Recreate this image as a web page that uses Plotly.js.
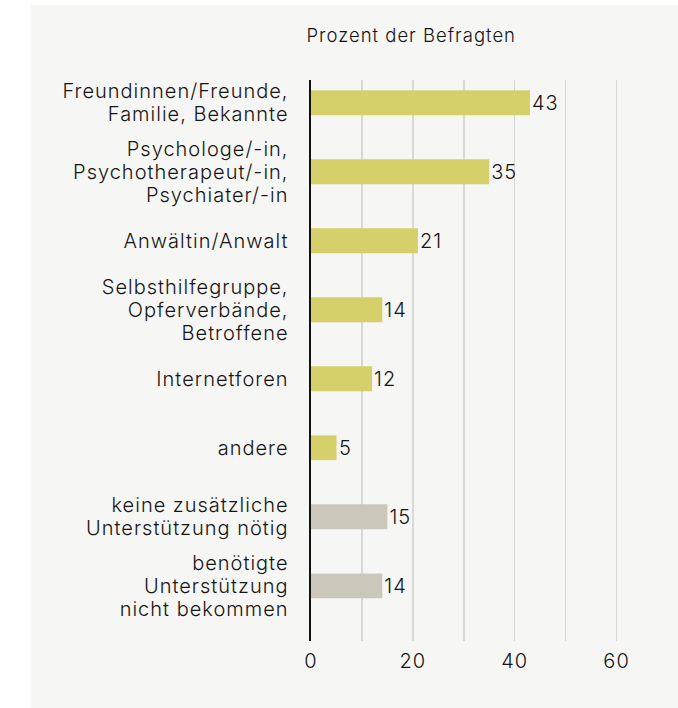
<!DOCTYPE html>
<html>
<head>
<meta charset="utf-8">
<script src="https://cdn.plot.ly/plotly-3.0.1.min.js"></script>
<style>
html,body{margin:0;padding:0;background:#ffffff;}
#wrap{position:relative;width:678px;height:708px;overflow:hidden;}
#bg{position:absolute;left:31px;top:5px;width:647px;height:703px;background:#f6f6f4;}
#chart{position:absolute;left:0;top:0;width:678px;height:708px;}
#chart svg text{letter-spacing:1px;}
</style>
</head>
<body>
<div id="wrap"><div id="bg"></div><div id="chart"></div></div>
<script>
const categories = [
  "Freundinnen/Freunde,<br>Familie, Bekannte",
  "Psychologe/-in,<br>Psychotherapeut/-in,<br>Psychiater/-in",
  "Anwältin/Anwalt",
  "Selbsthilfegruppe,<br>Opferverbände,<br>Betroffene",
  "Internetforen",
  "andere",
  "keine zusätzliche<br>Unterstützung nötig",
  "benötigte<br>Unterstützung<br>nicht bekommen"
];
const values = [43, 35, 21, 14, 12, 5, 15, 14];
const groups = ["support","support","support","support","support","support","other","other"];
const groupColors = {support: "#d6d06a", other: "#cbc8bb"};
const xTickVals = [0, 20, 40, 60];
const axisTitle = "Prozent der Befragten";

const fontFamily = "Inter, 'Open Sans', sans-serif";
const txtColor = "#151515";
const fw = 350;

const trace = {
  type: "bar",
  orientation: "h",
  y: categories,
  x: values,
  width: 0.36,
  marker: {color: groups.map(g => groupColors[g])},
  text: values.map(String),
  textposition: "outside",
  constraintext: "none",
  cliponaxis: false,
  textfont: {family: fontFamily, size: 20, color: txtColor, weight: fw},
  hoverinfo: "skip"
};

const layout = {
  width: 678,
  height: 708,
  paper_bgcolor: "rgba(0,0,0,0)",
  plot_bgcolor: "rgba(0,0,0,0)",
  margin: {l: 311, r: 36, t: 80, b: 67},
  showlegend: false,
  font: {family: fontFamily, size: 20, color: txtColor, weight: fw},
  xaxis: {
    range: [0, 65],
    tickvals: xTickVals,
    ticktext: xTickVals.map(String),
    showgrid: true,
    gridcolor: "#d8d8d6",
    gridwidth: 1.5,
    minor: {dtick: 10, tick0: 0, showgrid: true, gridcolor: "#d8d8d6", gridwidth: 1.5, ticks: ""},
    zeroline: false,
    showline: false,
    ticks: "",
    ticklen: 0,
    ticklabelstandoff: 6,
    tickfont: {family: fontFamily, size: 20, color: txtColor, weight: fw},
    fixedrange: true
  },
  yaxis: {
    type: "category",
    range: [7.8, -0.33],
    showgrid: false,
    zeroline: false,
    showline: true,
    linecolor: "#111111",
    linewidth: 2.5,
    ticks: "",
    ticklabelstandoff: 16,
    tickfont: {family: fontFamily, size: 20, color: txtColor, weight: fw},
    fixedrange: true
  },
  annotations: [{
    text: axisTitle,
    xref: "paper", yref: "paper",
    x: 0, y: 1, xanchor: "left", yanchor: "bottom",
    xshift: 4, yshift: 32,
    showarrow: false,
    font: {family: fontFamily, size: 18.5, color: txtColor, weight: fw}
  }]
};

function tightenLines(gd, ratio) {
  const texts = gd.querySelectorAll(".ytick text");
  texts.forEach(t => {
    const lines = t.querySelectorAll("tspan.line");
    if (lines.length < 2) return;
    const b0 = t.getBBox();
    const c0 = b0.y + b0.height / 2;
    lines.forEach(l => {
      const dy = l.getAttribute("dy");
      if (dy && /em$/.test(dy)) {
        l.setAttribute("dy", (parseFloat(dy) * ratio) + "em");
      }
    });
    const b1 = t.getBBox();
    const c1 = b1.y + b1.height / 2;
    const shift = c0 - c1;
    const tr = t.getAttribute("transform") || "";
    t.setAttribute("transform", (tr + " translate(0," + shift + ")").trim());
  });
}

Plotly.newPlot("chart", [trace], layout, {displayModeBar: false, staticPlot: true}).then(gd => {
  tightenLines(gd, 1.15 / 1.3);
});
</script>
</body>
</html>
